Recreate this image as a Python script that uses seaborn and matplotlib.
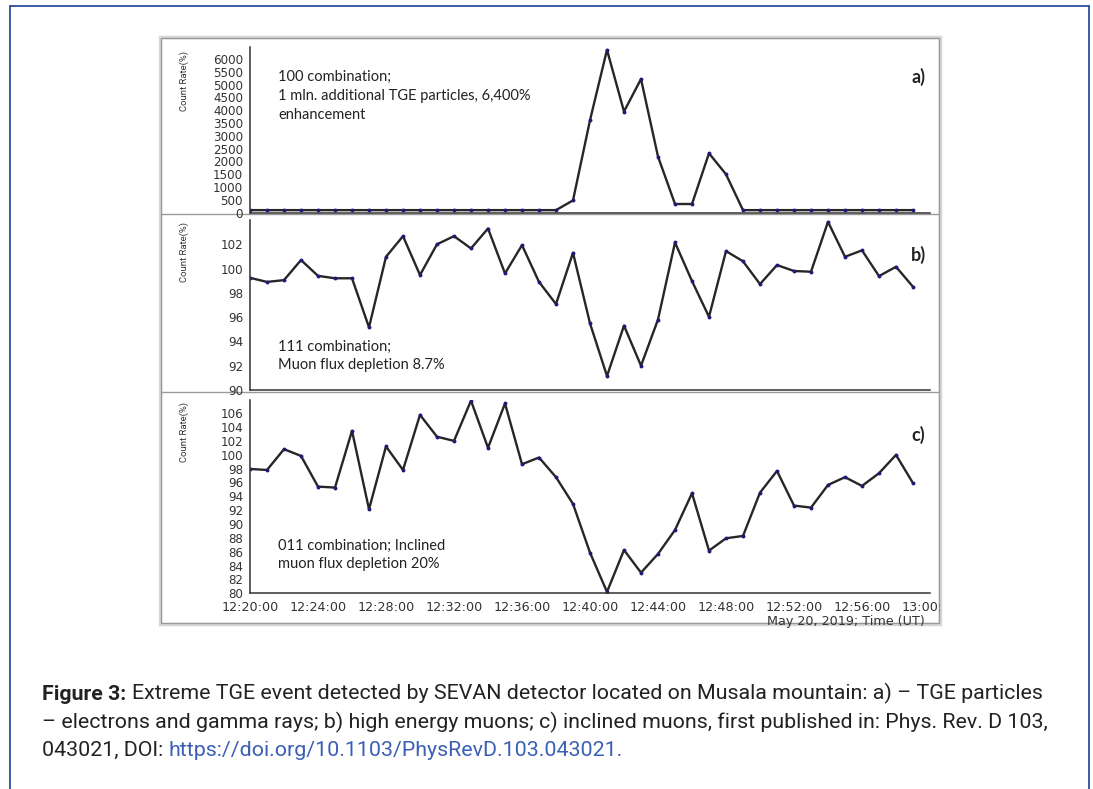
import matplotlib
matplotlib.use("Agg")
import matplotlib.pyplot as plt
import seaborn as sns
from matplotlib.ticker import FixedLocator, MultipleLocator, AutoMinorLocator
from matplotlib.patches import Rectangle
from matplotlib.lines import Line2D
from matplotlib.transforms import Bbox, TransformedBbox

sns.set_style("white")
plt.rcParams['font.family'] = ['DejaVu Sans']

# one reading per minute, 12:20 ... 12:59 UT
minutes = list(range(40))
time_ticks = [0, 4, 8, 12, 16, 20, 24, 28, 32, 36, 40]
time_labels = ["12:20:00", "12:24:00", "12:28:00", "12:32:00", "12:36:00", "12:40:00",
               "12:44:00", "12:48:00", "12:52:00", "12:56:00", "13:00:00"]

# a) 100 combination - TGE particles (count rate, %)
rate_100 = [100, 100, 100, 100, 100, 100, 100, 100, 100, 100,
            100, 100, 100, 100, 100, 100, 100, 100, 100, 480,
            3610, 6360, 3950, 5220, 2190, 340, 340, 2320, 1500, 100,
            100, 100, 100, 100, 100, 100, 100, 100, 100, 100]

# b) 111 combination - high energy muons
rate_111 = [99.24, 98.90, 99.05, 100.70, 99.40, 99.20, 99.20, 95.16, 100.97, 102.67,
            99.47, 102.00, 102.67, 101.66, 103.30, 99.60, 101.93, 98.90, 97.08, 101.30,
            95.49, 91.15, 95.30, 92.00, 95.80, 102.15, 98.97, 96.03, 101.44, 100.60,
            98.72, 100.29, 99.80, 99.74, 103.85, 100.97, 101.50, 99.38, 100.15, 98.50]

# c) 011 combination - inclined muons
rate_011 = [97.95, 97.80, 100.80, 99.83, 95.40, 95.26, 103.45, 92.13, 101.20, 97.80,
            105.76, 102.60, 102.00, 107.80, 101.00, 107.40, 98.63, 99.60, 96.76, 92.90,
            85.87, 80.20, 86.25, 82.98, 85.68, 89.14, 94.44, 86.16, 87.94, 88.28,
            94.53, 97.66, 92.66, 92.37, 95.64, 96.76, 95.50, 97.33, 99.98, 95.90]

yticks_100 = [0, 500, 1000, 1500, 2000, 2500, 3000, 3500, 4000, 4500, 5000, 5500, 6000]
yticks_111 = [90, 92, 94, 96, 98, 100, 102]
yticks_011 = [80, 82, 84, 86, 88, 90, 92, 94, 96, 98, 100, 102, 104, 106]

notes = ["100 combination;\n1 mln. additional TGE particles, 6,400%\nenhancement",
         "111 combination;\nMuon flux depletion 8.7%",
         "011 combination; Inclined\nmuon flux depletion 20%"]
tags = ["a)", "b)", "c)"]

W, H = 1093, 789
fig = plt.figure(figsize=(W / 100, H / 100), dpi=100)

# background axes in pixel units for frame + caption
bg = fig.add_axes([0, 0, 1, 1], zorder=0)
bg.set_xlim(0, W)
bg.set_ylim(H, 0)
bg.axis("off")

blue = "#2d4c9c"
for xs, ys in [([10, 10], [789, 6]), ([10, 1089], [6, 6]), ([1089, 1089], [6, 789])]:
    bg.add_line(Line2D(xs, ys, color=blue, lw=1.3))

bg.add_patch(Rectangle((160, 37), 780, 587, fill=False, edgecolor="#d8d8d8", lw=2.5))
bg.add_patch(Rectangle((161, 38), 778, 585, fill=False, edgecolor="#9a9a9a", lw=1.0))
for y in [214, 392]:
    bg.add_line(Line2D([161, 939], [y, y], color="#9a9a9a", lw=1.0))


def px_axes(left, top, right, bottom):
    return fig.add_axes([left / W, 1 - bottom / H, (right - left) / W, (bottom - top) / H], zorder=2)


panels = [
    dict(vals=rate_100, ylim=(0, 6470), yticks=yticks_100, box=(250, 47, 930, 212.7),
         note_xy=(278, 96), tag_y=77, ylab_top=51),
    dict(vals=rate_111, ylim=(90, 104), yticks=yticks_111, box=(250, 220, 930, 390),
         note_xy=(278, 356), tag_y=255, ylab_top=222),
    dict(vals=rate_011, ylim=(80, 107.9), yticks=yticks_011, box=(250, 400, 930, 593.3),
         note_xy=(278, 555), tag_y=435, ylab_top=402),
]

axes = []
for i, p in enumerate(panels):
    ax = px_axes(*p["box"])
    ax.set_facecolor("none")
    sns.lineplot(x=minutes, y=p["vals"], ax=ax, color="#262626", lw=1.7,
                 marker="o", markersize=2.8, markerfacecolor="#1c1c78",
                 markeredgecolor="#1c1c78", markeredgewidth=0)
    ax.set_xlim(0, 40)
    ax.set_ylim(*p["ylim"])
    ax.yaxis.set_major_locator(FixedLocator(p["yticks"]))
    ax.yaxis.set_minor_locator(AutoMinorLocator(2))
    ax.xaxis.set_major_locator(FixedLocator(time_ticks))
    ax.xaxis.set_minor_locator(MultipleLocator(1))
    for side in ["top", "right"]:
        ax.spines[side].set_visible(False)
    for side in ["left", "bottom"]:
        ax.spines[side].set_color("#333333")
        ax.spines[side].set_linewidth(1.1)
    ax.tick_params(which="both", direction="in", color="#333333", labelcolor="#333333")
    ax.tick_params(axis="y", labelsize=8.6, pad=5)
    ax.tick_params(axis="x", labelsize=9.2, pad=5.4)
    ax.tick_params(which="major", length=5, width=1)
    ax.tick_params(which="minor", length=3, width=0.8)
    ax.set_xlabel("")
    ax.set_ylabel("")
    if i < 2:
        ax.tick_params(labelbottom=False)
    else:
        ax.set_xticklabels(time_labels)
    axes.append(ax)

    bg.text(p["note_xy"][0], p["note_xy"][1], notes[i], family=["Lato", "DejaVu Sans"],
            fontsize=10.5, color="#222222", ha="left", va="center", linespacing=1.45)
    bg.text(918, p["tag_y"], tags[i], family=["Lato", "DejaVu Sans"], fontsize=13,
            fontweight="bold", color="#222222", ha="center", va="center")
    bg.text(184, p["ylab_top"], "Count Rate(%)", family=["Roboto", "DejaVu Sans"],
            fontsize=6.8, color="#333333", rotation=90, ha="center", va="top")

# last time label is cut by the image frame
clip = TransformedBbox(Bbox([[0, 0], [940, H]]), bg.transData)
for lbl in axes[2].get_xticklabels():
    lbl.set_clip_box(clip)
    lbl.set_clip_on(True)

bg.text(925, 621.5, "May 20, 2019; Time (UT)", fontsize=9.2, color="#333333",
        ha="right", va="center")

# caption
cap = dict(family=["Roboto", "DejaVu Sans"], fontsize=15.4, color="#222222")
t1 = bg.text(42, 694, "Figure 3:", fontweight="bold", va="center", ha="left", **cap)
bg.annotate("Extreme TGE event detected by SEVAN detector located on Musala mountain: a) \u2013 TGE particles",
            xy=(1, 0), xycoords=t1, xytext=(4, 0), textcoords="offset points",
            va="bottom", ha="left", **cap)
bg.text(42, 722, "\u2013 electrons and gamma rays; b) high energy muons; c) inclined muons, first published in: Phys. Rev. D 103,",
        va="center", ha="left", **cap)
t3 = bg.text(42, 750, "043021, DOI:", va="center", ha="left", **cap)
cap_link = dict(cap, color="#3a5fb5")
bg.annotate("https://doi.org/10.1103/PhysRevD.103.043021.", xy=(1, 0), xycoords=t3,
            xytext=(4, 0), textcoords="offset points", va="bottom", ha="left", **cap_link)

fig.savefig("out.png", dpi=100)
